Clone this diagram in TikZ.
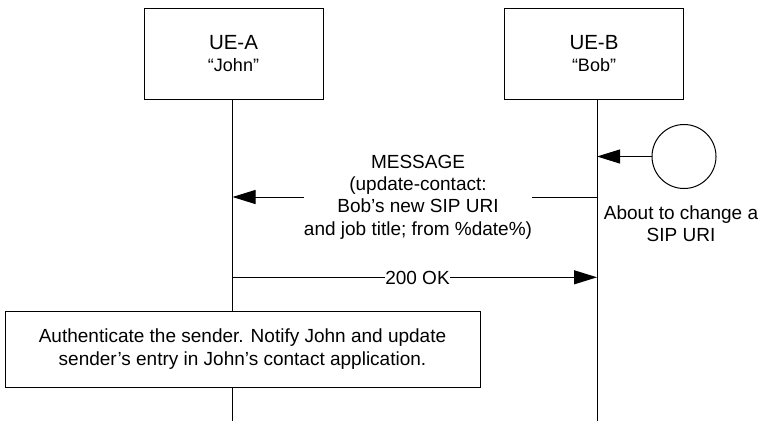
\documentclass[tikz,border=0pt]{standalone}
\usepackage{fontspec}
\setmainfont{Liberation Sans}
\usetikzlibrary{arrows.meta}

\newcommand{\msgfont}{\fontsize{19}{22.3}\selectfont}

\begin{document}
\begin{tikzpicture}[x=1pt, y=-1pt,
  every node/.style={font=\msgfont},
  line/.style={draw=black, line width=1pt},
  entity/.style={line, fill=white, minimum width=179pt, minimum height=91pt,
                 align=center, inner sep=0pt},
  notebox/.style={line, fill=white, minimum width=475pt, minimum height=76pt,
                  align=center, inner sep=0pt},
  msg/.style={line, -{Triangle[length=23pt, width=14pt]}},
  lbl/.style={fill=white, inner xsep=0.6pt, inner ysep=0pt, align=center}
]
\useasboundingbox (0,0) rectangle (759,421);

% lifeline ends
\coordinate (aEnd) at (232.5,421);
\coordinate (bEnd) at (597,421);

% entities
\node[entity] (ueA) at (233.5,53.5)
  {{\fontsize{20.5}{23.5}\selectfont UE-A}\\[-0.3pt]{\fontsize{18}{23.5}\selectfont “John”}};
\node[entity] (ueB) at (594,53.5)
  {{\fontsize{20.5}{23.5}\selectfont UE-B}\\[-0.3pt]{\fontsize{18}{23.5}\selectfont “Bob”}};

% lifelines
\draw[line] (ueA.south -| aEnd) -- (aEnd);
\draw[line] (ueB.south -| bEnd) -- (bEnd);

% trigger at UE-B
\node[line, circle, minimum size=64pt, inner sep=0pt] (trig) at (684,156.5) {};
\coordinate (bTrig) at (597,156.5);
\draw[msg] (trig.west) -- (bTrig);
\node[align=center, inner sep=0pt] (trigTxt) at (681,223.5) {About to change a\\SIP URI};

% MESSAGE from UE-B to UE-A
\coordinate (bMsg) at (597,197);
\coordinate (aMsg) at (232.5,197);
\draw[msg] (bMsg) -- (aMsg);
\node[lbl, inner xsep=0pt] (msgTxt) at (418,197)
  {MESSAGE\\(update-contact:\\Bob’s new SIP URI\\and job title; from \%date\%)};

% 200 OK from UE-A to UE-B
\coordinate (aOk) at (232.5,277.3);
\coordinate (bOk) at (597,277.3);
\draw[msg] (aOk) -- (bOk);
\node[lbl] (okTxt) at (417.5,277.8) {200 OK};

% local action at UE-A
\node[notebox] (auth) at (242.5,349)
  {Authenticate the sender. Notify John and update\\sender’s entry in John’s contact application.};
\end{tikzpicture}
\end{document}
